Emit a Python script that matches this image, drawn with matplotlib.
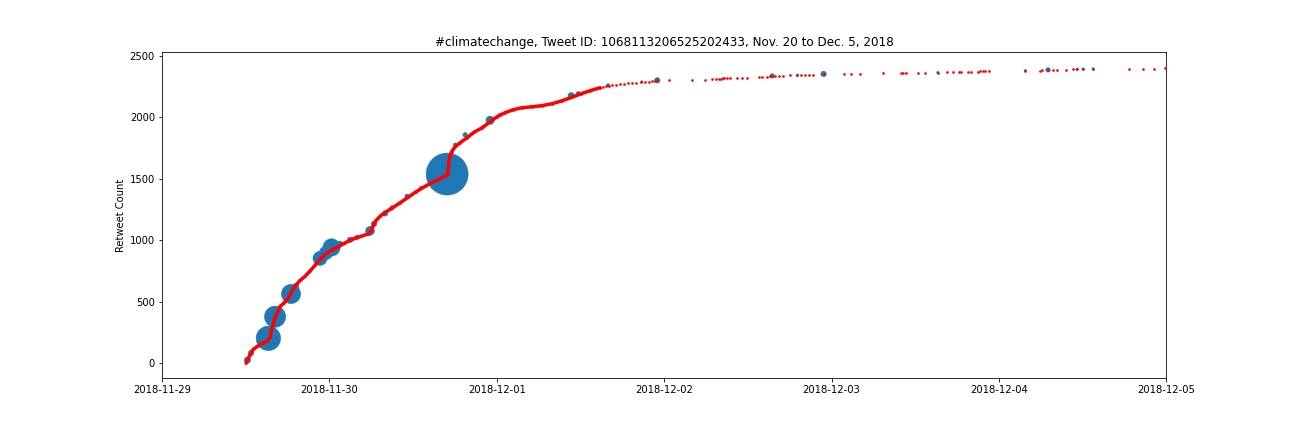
"""
Retweet count over time for one #climatechange tweet
"""
import datetime
import numpy as np
import matplotlib
matplotlib.use('Agg')
import matplotlib.pyplot as plt
import matplotlib.dates as mdates

START = datetime.datetime(2018, 11, 29)

# dense part of the retweet curve: hours since 2018-11-29 00:00, retweet count
dense_hours = [12.05, 12.33, 12.62, 13.05, 13.77, 14.49, 15.06, 15.42, 15.63, 15.92,
               16.21, 16.49, 16.92, 17.50, 18.07, 18.50, 18.93, 19.79, 20.51, 21.23,
               21.94, 22.66, 23.38, 24.10, 25.10, 26.25, 27.39, 28.54, 29.55, 29.98,
               30.26, 30.69, 31.41, 32.70, 34.14, 35.28, 36.43, 37.72, 38.87, 39.87,
               40.59, 40.95, 41.09, 41.24, 41.52, 42.02, 42.74, 43.74, 44.75, 45.90,
               47.04, 48.05, 49.20, 50.34, 51.63, 53.07, 54.50, 55.94, 57.37, 58.80,
               60.10, 61.39, 62.82]
dense_counts = [0, 33, 65, 110, 139, 163, 179, 204, 253, 310,
                367, 408, 460, 489, 526, 571, 615, 672, 705, 750,
                795, 844, 884, 913, 941, 978, 1011, 1031, 1051, 1072,
                1117, 1161, 1202, 1251, 1304, 1349, 1394, 1438, 1475, 1500,
                1524, 1536, 1614, 1679, 1720, 1760, 1793, 1834, 1879, 1915,
                1964, 2005, 2038, 2062, 2078, 2086, 2095, 2111, 2135, 2164,
                2192, 2217, 2241]

# later, sparser retweets
sparse_hours = [63.25, 63.68, 64.11, 64.54, 65.11, 65.69, 66.26, 66.84, 67.41, 67.98,
                68.70, 69.27, 69.85, 70.28, 70.71, 71.00, 72.62, 75.97, 77.88, 78.84,
                79.39, 79.79, 80.17, 80.61, 81.04, 81.47, 82.47, 83.14, 83.86, 85.53,
                86.01, 86.73, 87.20, 87.49, 87.92, 88.49, 89.02, 90.07, 91.03, 91.65,
                92.22, 92.80, 93.33, 94.85, 97.82, 98.82, 100.11, 103.31, 105.89, 106.24,
                106.61, 108.33, 109.43, 111.23, 112.49, 113.35, 114.24, 114.55, 115.50, 115.99,
                116.96, 117.32, 117.65, 117.94, 118.61, 123.78, 125.83, 126.11, 127.03, 127.79,
                128.27, 129.66, 130.56, 131.19, 132.05, 133.49, 138.59, 140.60, 142.18, 143.74]
sparse_counts = [2245, 2251, 2258, 2262, 2266, 2271, 2274, 2278, 2280, 2282,
                 2286, 2289, 2290, 2294, 2298, 2301, 2304, 2306, 2306, 2311,
                 2312, 2313, 2315, 2316, 2317, 2319, 2320, 2321, 2322, 2325,
                 2328, 2331, 2335, 2337, 2338, 2339, 2340, 2342, 2343, 2345,
                 2346, 2347, 2348, 2353, 2354, 2355, 2356, 2357, 2358, 2359,
                 2360, 2361, 2362, 2364, 2365, 2366, 2367, 2369, 2370, 2371,
                 2372, 2376, 2377, 2378, 2379, 2380, 2381, 2382, 2386, 2387,
                 2388, 2389, 2390, 2391, 2393, 2394, 2395, 2396, 2397, 2398]

# retweets drawn as blue circles (size = marker area)
blue_hours = [12.26, 12.76, 15.25, 16.21, 18.50, 19.22, 22.66, 23.52, 24.31, 25.53,
              26.96, 27.97, 29.83, 30.41, 31.98, 32.99, 35.14, 37.15, 40.88, 42.02,
              43.46, 47.04, 48.48, 58.66, 59.67, 63.97, 68.80, 71.00, 80.46, 87.49,
              91.08, 94.85, 111.23, 123.78, 127.03, 131.19, 132.05, 133.49]
blue_counts = [24, 81, 201, 377, 562, 628, 852, 897, 941, 970,
               1002, 1023, 1076, 1133, 1218, 1263, 1357, 1426, 1538, 1777,
               1858, 1976, 2021, 2176, 2192, 2260, 2288, 2301, 2315, 2337,
               2343, 2353, 2364, 2380, 2386, 2391, 2393, 2394]
blue_sizes = [40, 30, 600, 450, 370, 30, 200, 180, 300, 30,
              30, 20, 80, 30, 30, 20, 20, 12, 1764, 12,
              20, 70, 12, 40, 20, 12, 6, 30, 6, 20,
              6, 30, 6, 6, 20, 6, 6, 6]


def to_dates(hours):
    return [START + datetime.timedelta(hours=h) for h in hours]


fig = plt.figure(figsize=(18, 6), dpi=72)
ax = fig.add_subplot(111)
fig.subplots_adjust(left=0.125, right=0.9, top=0.88, bottom=0.125)

ax.scatter(to_dates(blue_hours), blue_counts, s=blue_sizes, color='C0',
           linewidths=0.5, zorder=2)
ax.plot(to_dates(dense_hours), dense_counts, color='red', lw=3.5,
        solid_capstyle='round', solid_joinstyle='round', zorder=3)
ax.scatter(to_dates(dense_hours + sparse_hours), dense_counts + sparse_counts,
           s=7, color='red', linewidths=0, zorder=4)

ax.set_xlim(START, START + datetime.timedelta(days=6))
ax.set_ylim(-122, 2533)
ax.set_yticks(np.arange(0, 2501, 500))
ax.xaxis.set_major_locator(mdates.DayLocator())
ax.xaxis.set_major_formatter(mdates.DateFormatter('%Y-%m-%d'))

ax.set_ylabel('Retweet Count')
ax.set_title('#climatechange, Tweet ID: 1068113206525202433, Nov. 20 to Dec. 5, 2018')

fig.savefig('out.png', dpi=72)
